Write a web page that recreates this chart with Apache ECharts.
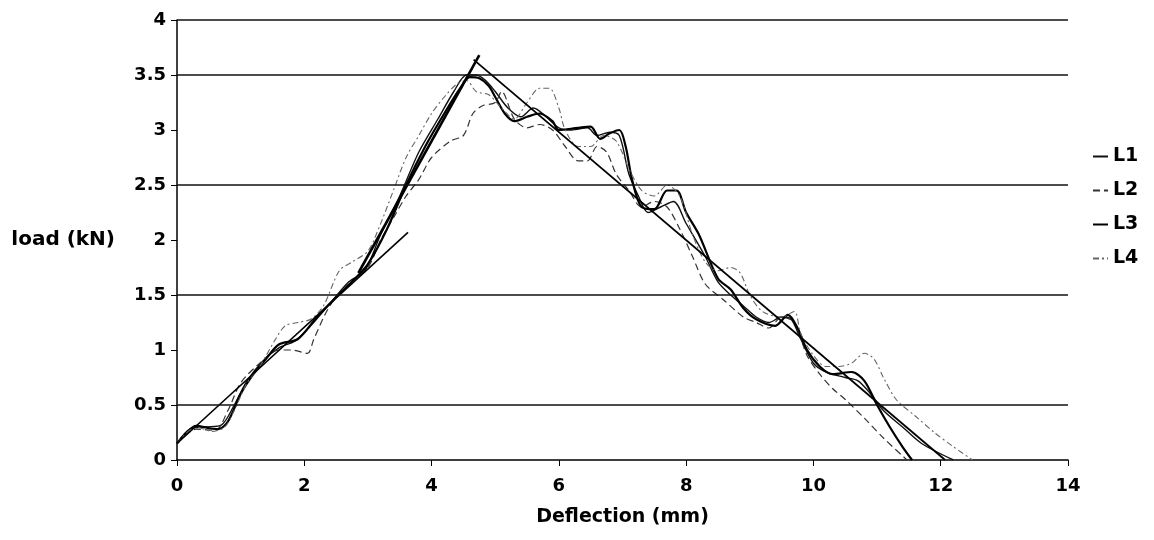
<!DOCTYPE html>
<html>
<head>
<meta charset="utf-8">
<script src="https://cdn.jsdelivr.net/npm/echarts@6/dist/echarts.min.js"></script>
<style>
  html, body { margin: 0; padding: 0; background: #fff; }
  #chart { width: 1154px; height: 540px; }
</style>
</head>
<body>
<div id="chart"></div>
<script>
// measured curves, [deflection mm, load kN]
const L1 = [[0,0.15],[0.2,0.28],[0.45,0.3],[0.7,0.32],[0.9,0.5],[1.1,0.72],[1.35,0.9],[1.6,1.02],[1.85,1.08],[2.1,1.22],[2.4,1.42],[2.7,1.62],[2.95,1.72],[3.2,2.05],[3.5,2.4],[3.8,2.8],[4.1,3.1],[4.35,3.35],[4.55,3.5],[4.7,3.5],[4.85,3.45],[5.0,3.35],[5.2,3.2],[5.4,3.12],[5.6,3.2],[5.8,3.12],[6.0,3.02],[6.2,3.0],[6.45,3.02],[6.6,2.95],[6.8,2.98],[6.95,2.95],[7.1,2.6],[7.25,2.4],[7.4,2.25],[7.6,2.3],[7.8,2.35],[8.0,2.15],[8.3,1.85],[8.5,1.62],[8.7,1.5],[8.9,1.4],[9.1,1.3],[9.3,1.25],[9.5,1.3],[9.65,1.28],[9.8,1.1],[10.0,0.88],[10.2,0.8],[10.5,0.75],[10.7,0.72],[10.9,0.6],[11.1,0.45],[11.4,0.3],[11.7,0.15],[12.2,0.0]];
const L2 = [[0,0.15],[0.3,0.28],[0.6,0.27],[0.8,0.45],[1.0,0.7],[1.3,0.88],[1.6,1.0],[1.8,1.0],[2.05,0.97],[2.15,1.1],[2.4,1.4],[2.7,1.6],[3.0,1.75],[3.2,2.0],[3.4,2.2],[3.6,2.4],[3.8,2.55],[4.0,2.75],[4.3,2.9],[4.5,2.95],[4.65,3.15],[4.8,3.22],[5.0,3.25],[5.1,3.35],[5.3,3.1],[5.5,3.02],[5.7,3.05],[5.9,3.0],[6.1,2.85],[6.3,2.72],[6.45,2.72],[6.6,2.85],[6.75,2.8],[6.9,2.6],[7.1,2.45],[7.3,2.3],[7.5,2.35],[7.7,2.3],[7.9,2.1],[8.1,1.85],[8.3,1.6],[8.6,1.45],[8.9,1.3],[9.1,1.25],[9.3,1.2],[9.5,1.3],[9.7,1.25],[9.9,0.95],[10.1,0.78],[10.3,0.65],[10.5,0.55],[10.8,0.38],[11.1,0.2],[11.47,0.0]];
const L3 = [[0,0.15],[0.15,0.25],[0.3,0.31],[0.5,0.29],[0.65,0.28],[0.8,0.35],[1.0,0.6],[1.2,0.78],[1.4,0.92],[1.6,1.05],[1.9,1.1],[2.2,1.3],[2.5,1.48],[2.8,1.65],[3.0,1.78],[3.3,2.1],[3.6,2.5],[3.9,2.85],[4.2,3.15],[4.45,3.38],[4.6,3.48],[4.75,3.47],[4.9,3.4],[5.0,3.3],[5.15,3.15],[5.3,3.08],[5.5,3.12],[5.7,3.15],[5.9,3.08],[6.0,3.0],[6.3,3.02],[6.5,3.03],[6.65,2.92],[6.8,2.97],[6.95,3.0],[7.05,2.85],[7.15,2.55],[7.3,2.3],[7.5,2.28],[7.7,2.45],[7.85,2.45],[8.0,2.25],[8.2,2.05],[8.5,1.65],[8.7,1.55],[8.9,1.38],[9.1,1.28],[9.4,1.22],[9.6,1.32],[9.75,1.2],[9.9,1.0],[10.1,0.85],[10.3,0.78],[10.6,0.8],[10.8,0.72],[11.0,0.5],[11.2,0.3],[11.4,0.12],[11.55,0.0]];
const L4 = [[0,0.15],[0.3,0.3],[0.55,0.26],[0.75,0.3],[0.9,0.45],[1.1,0.7],[1.3,0.85],[1.55,1.1],[1.7,1.22],[1.9,1.25],[2.1,1.28],[2.3,1.4],[2.55,1.72],[2.75,1.8],[3.0,1.9],[3.2,2.15],[3.4,2.45],[3.6,2.75],[3.8,2.95],[4.0,3.15],[4.2,3.3],[4.4,3.42],[4.55,3.45],[4.7,3.35],[4.9,3.32],[5.1,3.2],[5.3,3.1],[5.5,3.25],[5.7,3.38],[5.85,3.38],[6.0,3.2],[6.1,3.0],[6.3,2.85],[6.5,2.85],[6.7,2.95],[6.9,2.9],[7.1,2.65],[7.3,2.45],[7.5,2.4],[7.7,2.5],[7.9,2.4],[8.1,2.05],[8.3,1.8],[8.5,1.72],[8.7,1.75],[8.85,1.7],[9.0,1.5],[9.2,1.35],[9.5,1.3],[9.7,1.35],[9.8,1.15],[10.0,0.95],[10.2,0.85],[10.4,0.85],[10.6,0.88],[10.8,0.97],[10.95,0.92],[11.1,0.75],[11.3,0.55],[11.6,0.4],[11.9,0.25],[12.2,0.12],[12.5,0.0]];

// straight fitted lines
const fitInitial = [[0,0.15],[3.63,2.07]];
const fitRise = [[2.85,1.7],[4.75,3.68]];
const fitFall = [[4.66,3.64],[12.07,0]];

const gridValues = [0.5, 1.5, 2.5, 3.5, 4];
const legendNames = ['L1', 'L2', 'L3', 'L4'];

const chart = echarts.init(document.getElementById('chart'));
const font = 'DejaVu Sans, Arial, sans-serif';

function curve(name, data, color, width, type) {
  return {
    name, type: 'line', data, smooth: 0.3, symbol: 'none',
    itemStyle: { color },
    lineStyle: { color, width, type }, z: 3
  };
}
function fit(data, width) {
  return {
    type: 'line', data, symbol: 'none', silent: true,
    lineStyle: { color: '#000', width }, z: 4
  };
}

chart.setOption({
  animation: false,
  backgroundColor: '#fff',
  grid: { left: 177, right: 86, top: 20, bottom: 80 },
  legend: {
    data: legendNames, orient: 'vertical', left: 1087, top: 142,
    itemWidth: 15, itemHeight: 10, itemGap: 15,
    itemStyle: { opacity: 0 },
    textStyle: { fontFamily: font, fontSize: 19, fontWeight: 'bold', color: '#000', padding: [0, 0, 0, 0] }
  },
  xAxis: {
    type: 'value', min: 0, max: 14, interval: 2,
    name: 'Deflection (mm)', nameLocation: 'middle', nameGap: 48,
    nameTextStyle: { fontFamily: font, fontSize: 19, fontWeight: 'bold', color: '#000' },
    axisLine: { show: true, lineStyle: { color: '#000', width: 1.5 } },
    axisTick: { show: true, length: 6, lineStyle: { color: '#000' } },
    axisLabel: { fontFamily: font, fontSize: 18, fontWeight: 'bold', color: '#000', margin: 17 },
    splitLine: { show: false }
  },
  yAxis: {
    type: 'value', min: 0, max: 4, interval: 0.5,
    name: 'load (kN)', nameLocation: 'middle', nameRotate: 0, nameGap: 62,
    nameTextStyle: { fontFamily: font, fontSize: 20, fontWeight: 'bold', color: '#000', align: 'right' },
    axisLine: { show: true, lineStyle: { color: '#000', width: 1.5 } },
    axisTick: { show: true, length: 6, lineStyle: { color: '#000' } },
    axisLabel: { fontFamily: font, fontSize: 18, fontWeight: 'bold', color: '#000', margin: 11 },
    splitLine: { show: false }
  },
  series: [
    {
      type: 'line', data: [], silent: true,
      markLine: {
        silent: true, symbol: 'none', label: { show: false },
        lineStyle: { color: '#111', width: 1.5, type: 'solid' },
        data: gridValues.map(v => ({ yAxis: v }))
      }
    },
    curve('L1', L1, '#111', 1.4, 'solid'),
    curve('L2', L2, '#333', 1.2, [7, 4]),
    curve('L3', L3, '#000', 2.2, 'solid'),
    curve('L4', L4, '#666', 1.1, [6, 3, 2, 3]),
    fit(fitInitial, 1.6),
    fit(fitRise, 2.6),
    fit(fitFall, 1.8)
  ]
});
</script>
</body>
</html>
